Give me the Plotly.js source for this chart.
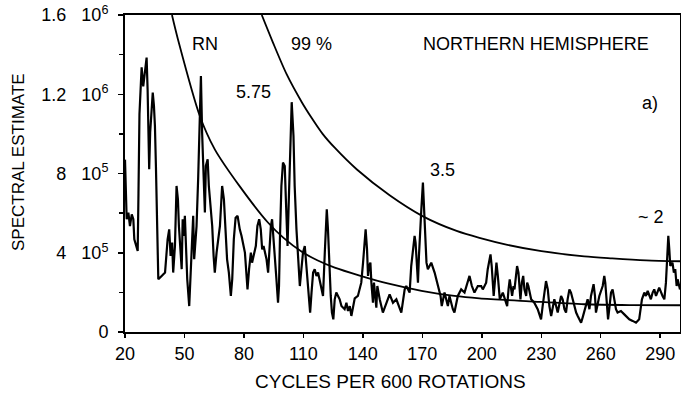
<!DOCTYPE html>
<html>
<head>
<meta charset="utf-8">
<script src="https://cdn.plot.ly/plotly-3.0.1.min.js"></script>
<style>html,body{margin:0;padding:0;background:#fff;}#chart{width:681px;height:393px;}</style>
</head>
<body>
<div id="chart"></div>
<script>
// Frequencies (cycles per 600 rotations) and spectral estimate (units of 10^6)
var freq = [20.0,20.85,21.7,22.5,23.4,24.2,24.7,25.5,26.4,26.8,27.3,28.1,28.4,29.2,30.1,30.9,31.4,31.7,32.2,32.7,33.5,34.0,34.6,35.1,35.6,36.1,36.8,
38.5,40.2,41.5,42.3,43.0,43.8,44.3,45.2,46.0,46.7,47.2,47.9,48.6,49.1,49.7,50.2,50.7,51.4,52.4,53.1,53.6,54.4,54.9,56.1,56.9,57.8,58.3,58.9,59.6,60.3,60.8,61.7,62.3,63.2,64.0,64.7,65.3,66.2,67.0,67.9,69.0,69.9,70.7,71.5,72.4,73.4,74.1,74.9,75.8,
76.8,77.9,78.8,80.5,81.8,82.6,83.5,84.1,86.0,86.8,87.7,88.5,89.2,89.9,91.4,92.2,92.7,93.6,94.2,94.9,95.6,96.4,97.2,97.7,98.2,98.9,99.7,100.6,101.1,101.6,102.0,102.6,103.1,103.6,104.1,105.0,105.6,106.5,107.3,108.2,109.0,109.8,110.7,111.2,112.0,112.7,113.4,114.1,114.9,115.7,116.6,117.4,118.2,119.1,119.9,120.8,121.3,121.8,122.4,123.1,123.8,124.4,125.1,125.8,126.6,128.3,129.2,130.8,131.7,132.5,133.4,134.2,135.0,135.9,
137.5,139.2,140.1,140.9,141.4,142.1,142.6,143.1,143.8,144.3,145.1,145.6,146.3,146.8,147.3,148.5,150.1,151.8,153.5,155.2,156.9,159.4,161.1,161.9,163.6,164.4,165.2,166.1,166.6,167.1,167.8,168.3,169.0,169.5,170.3,171.1,171.6,172.1,172.8,174.5,176.2,177.8,179.2,179.8,181.2,182.9,183.7,185.4,186.2,187.9,189.6,191.3,193.8,195.0,196.3,
198.0,199.7,200.5,202.2,203.0,203.9,204.4,205.0,205.5,206.0,206.7,207.4,208.1,208.6,209.1,210.6,212.3,212.8,213.5,214.1,215.3,216.0,216.5,217.3,217.8,218.5,219.0,219.5,220.2,220.9,221.5,222.4,222.9,223.5,224.9,226.5,228.2,229.9,230.7,231.6,232.4,233.3,234.1,235.0,235.8,236.6,237.5,238.3,240.0,240.8,241.7,242.5,243.3,244.2,245.0,245.8,246.7,247.6,248.4,250.1,
250.9,252.6,253.4,254.3,255.1,256.4,257.1,257.6,258.4,259.3,261.0,261.8,262.3,263.0,263.7,264.3,265.2,266.0,266.8,267.7,268.5,270.2,271.9,274.4,276.1,277.8,279.4,280.8,282.0,282.8,283.7,285.3,286.2,287.0,287.9,289.5,291.2,292.1,292.9,293.4,293.7,294.1,294.6,295.1,296.2,296.9,297.6,298.3,298.8,300.0];
var power = [0.87,0.569,0.603,0.535,0.594,0.569,0.468,0.434,0.409,0.70,1.10,1.275,1.336,1.24,1.31,1.385,1.225,0.939,0.821,1.007,1.175,1.208,1.141,1.04,0.838,0.552,0.266,
0.283,0.300,0.468,0.518,0.384,0.451,0.300,0.434,0.737,0.670,0.535,0.434,0.317,0.569,0.485,0.586,0.468,0.266,0.131,0.300,0.468,0.586,0.367,0.535,0.771,1.074,1.292,1.007,0.805,0.603,0.838,0.872,0.737,0.636,0.535,0.384,0.300,0.401,0.468,0.535,0.737,0.670,0.518,0.367,0.300,0.182,0.266,0.468,0.577,
0.586,0.518,0.485,0.401,0.215,0.317,0.401,0.350,0.434,0.535,0.569,0.518,0.417,0.434,0.367,0.300,0.401,0.535,0.569,0.485,0.367,0.266,0.148,0.232,0.485,0.737,0.855,0.838,0.687,0.485,0.434,0.653,0.872,1.040,1.160,0.989,0.737,0.518,0.367,0.232,0.317,0.401,0.434,0.367,0.266,0.148,0.098,0.199,0.300,0.317,0.283,0.300,0.266,0.232,0.182,0.401,0.569,0.619,0.518,0.333,0.182,0.098,0.064,0.165,0.199,0.165,0.131,0.115,0.148,0.106,0.131,0.081,0.131,0.170,
0.182,0.249,0.350,0.485,0.518,0.417,0.283,0.333,0.350,0.249,0.148,0.249,0.148,0.123,0.232,0.165,0.098,0.148,0.190,0.148,0.165,0.098,0.215,0.232,0.199,0.333,0.417,0.485,0.451,0.333,0.249,0.384,0.552,0.619,0.754,0.586,0.417,0.350,0.317,0.350,0.300,0.232,0.182,0.131,0.199,0.131,0.182,0.115,0.098,0.182,0.215,0.199,0.283,0.232,0.199,
0.232,0.232,0.215,0.249,0.317,0.367,0.392,0.333,0.232,0.182,0.266,0.350,0.283,0.199,0.165,0.199,0.148,0.131,0.215,0.266,0.182,0.232,0.215,0.283,0.333,0.300,0.199,0.165,0.249,0.283,0.215,0.182,0.249,0.232,0.165,0.148,0.115,0.064,0.131,0.215,0.257,0.215,0.131,0.081,0.115,0.165,0.131,0.098,0.182,0.165,0.115,0.098,0.165,0.215,0.199,0.165,0.131,0.098,0.081,0.047,
0.074,0.131,0.165,0.115,0.182,0.241,0.182,0.098,0.148,0.182,0.232,0.283,0.249,0.131,0.064,0.115,0.199,0.215,0.165,0.115,0.098,0.106,0.089,0.064,0.056,0.047,0.064,0.165,0.199,0.182,0.207,0.165,0.199,0.215,0.182,0.224,0.182,0.165,0.249,0.333,0.434,0.485,0.417,0.333,0.350,0.300,0.317,0.232,0.266,0.215];

// Red-noise (RN) curve
var rnFreq = [43.7,46.7,57.8,65.3,77.9,92.0,100.0,109.2,117.0,125.8,138.4,152.5,169.6,186.2,198.8,224.0,251.7,274.4,300.0];
var rnPower = [1.60,1.478,1.089,0.922,0.735,0.554,0.475,0.405,0.362,0.325,0.285,0.245,0.208,0.182,0.170,0.155,0.140,0.136,0.135];

// 99 % confidence curve
var ciFreq = [89.0,94.6,101.6,109.2,114.2,119.7,125.8,137.0,153.5,170.1,187.3,198.8,212.9,230.1,251.7,265.8,282.9,300.0];
var ciPower = [1.60,1.462,1.30,1.16,1.08,1.00,0.93,0.82,0.69,0.585,0.51,0.475,0.44,0.408,0.382,0.372,0.362,0.357];

var xTicks = [20,50,80,110,140,170,200,230,260,290];
var yTicks = [0,0.4,0.8,1.2,1.6];
var yTickText = ["0","4\u00a0\u00a0\u00a010<sup>5</sup>","8\u00a0\u00a0\u00a010<sup>5</sup>","1.2\u00a0\u00a0\u00a010<sup>6</sup>","1.6\u00a0\u00a0\u00a010<sup>6</sup>"];

var labels = [
  {text:"RN", x:60.3, y:1.452},
  {text:"99 %", x:114.2, y:1.452},
  {text:"NORTHERN HEMISPHERE", x:227.1, y:1.452},
  {text:"5.75", x:85.0, y:1.21},
  {text:"3.5", x:180.2, y:0.816},
  {text:"~ 2", x:285.5, y:0.579},
  {text:"a)", x:285.0, y:1.154}
];

var FONT = "Liberation Sans, Arial, sans-serif";

var traces = [
  {x:freq, y:power, type:"scatter", mode:"lines", line:{color:"#000", width:2.2}, name:"spectrum"},
  {x:rnFreq, y:rnPower, type:"scatter", mode:"lines", line:{color:"#000", width:1.8, shape:"spline", smoothing:0.8}, name:"RN"},
  {x:ciFreq, y:ciPower, type:"scatter", mode:"lines", line:{color:"#000", width:1.8, shape:"spline", smoothing:0.8}, name:"99 %"}
];

var annots = labels.map(function(l){
  return {text:l.text, x:l.x, y:l.y, xref:"x", yref:"y", showarrow:false,
          font:{family:FONT, size:18, color:"#000"}, xanchor:"center", yanchor:"middle"};
});
annots.push({text:"CYCLES PER 600 ROTATIONS", xref:"paper", yref:"paper", x:0.4775, y:-0.155,
  xanchor:"center", yanchor:"middle", showarrow:false, font:{family:FONT, size:19, color:"#000"}});
annots.push({text:"SPECTRAL ESTIMATE", xref:"paper", yref:"paper", x:-0.193, y:0.536, textangle:-90,
  xanchor:"center", yanchor:"middle", showarrow:false, font:{family:FONT, size:17, color:"#000"}});

var layout = {
  width:681, height:393,
  margin:{l:125, r:1, t:15, b:61},
  paper_bgcolor:"#fff", plot_bgcolor:"#fff",
  showlegend:false,
  font:{family:FONT, color:"#000", size:18},
  xaxis:{
    range:[20,300], tickvals:xTicks, ticktext:xTicks.map(String),
    showgrid:false, zeroline:false, showline:true, mirror:true, linecolor:"#000", linewidth:2,
    ticks:"outside", ticklen:4, tickwidth:1.5, tickcolor:"#000", ticklabelstandoff:0,
    tickfont:{family:FONT, size:18, color:"#000"}
  },
  yaxis:{
    range:[0,1.6], tickvals:yTicks, ticktext:yTickText,
    showgrid:false, zeroline:false, showline:true, mirror:true, linecolor:"#000", linewidth:2,
    ticks:"outside", ticklen:5, tickwidth:1.5, tickcolor:"#000", ticklabelstandoff:6,
    tickfont:{family:FONT, size:18, color:"#000"},
    minor:{tickmode:"linear", tick0:0, dtick:0.2, ticks:"outside", ticklen:4, tickcolor:"#000", tickwidth:1.5}
  },
  annotations: annots
};

Plotly.newPlot("chart", traces, layout, {displayModeBar:false, staticPlot:true});
</script>
</body>
</html>
